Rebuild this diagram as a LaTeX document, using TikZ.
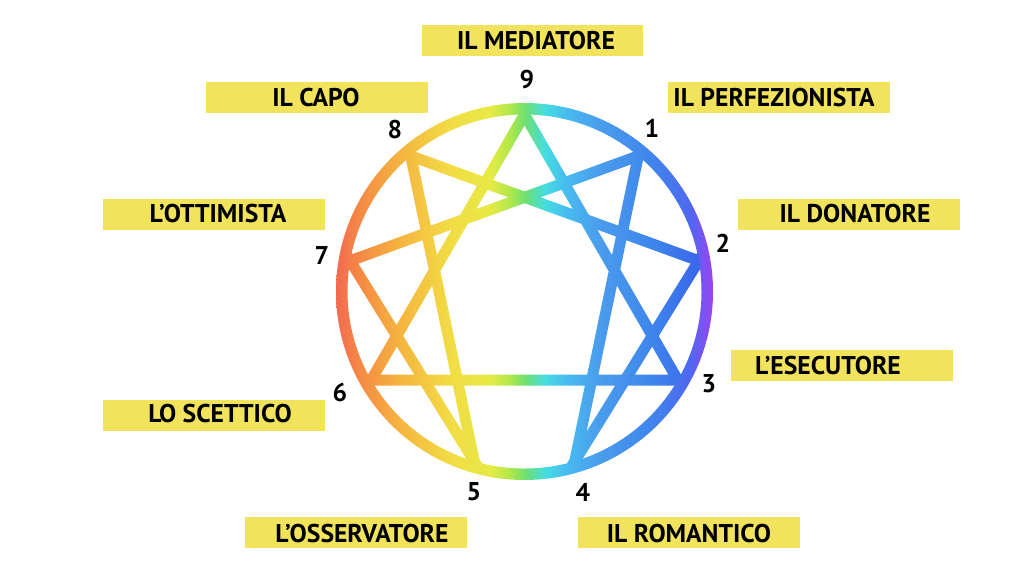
\documentclass[tikz,border=0pt]{standalone}
\usepackage{fontspec}
\setmainfont{PT Sans}
\usetikzlibrary{calc}
\definecolor{boxy}{HTML}{F2E35C}
% ring colours
\definecolor{r0}{HTML}{F26A50}
\definecolor{r1}{HTML}{F58A45}
\definecolor{r2}{HTML}{F5B540}
\definecolor{r3}{HTML}{F2DC45}
\definecolor{r4}{HTML}{E6EA45}
\definecolor{r5}{HTML}{B0E84A}
\definecolor{r6}{HTML}{6EE070}
\definecolor{r7}{HTML}{45DDE0}
\definecolor{r8}{HTML}{48BCF0}
\definecolor{r9}{HTML}{4A9CEC}
\definecolor{r10}{HTML}{3F86EC}
\definecolor{r11}{HTML}{4F68F0}
\definecolor{r12}{HTML}{8250F2}
\definecolor{r13}{HTML}{A040F0}
\definecolor{b11}{HTML}{3A6CEC}
\definecolor{b12}{HTML}{3A62EA}
\definecolor{b13}{HTML}{3C5EEA}
\pgfdeclarehorizontalshading{ringshade}{100bp}{color(0bp)=(r0); color(25bp)=(r0); color(28.17bp)=(r1); color(33.44bp)=(r2); color(40.04bp)=(r3); color(45.32bp)=(r4); color(47.95bp)=(r5); color(49.93bp)=(r6); color(52.57bp)=(r7); color(55.21bp)=(r8); color(59.83bp)=(r9); color(66.42bp)=(r10); color(71.7bp)=(r11); color(73.68bp)=(r12); color(75bp)=(r13); color(100bp)=(r13)}
\pgfdeclarehorizontalshading{bandshade}{100bp}{color(0bp)=(r0); color(25bp)=(r0); color(28.17bp)=(r1); color(33.44bp)=(r2); color(40.04bp)=(r3); color(45.32bp)=(r4); color(47.95bp)=(r5); color(49.93bp)=(r6); color(52.57bp)=(r7); color(55.21bp)=(r8); color(59.83bp)=(r9); color(66.42bp)=(r10); color(71.7bp)=(b11); color(73.68bp)=(b12); color(75bp)=(b13); color(100bp)=(b13)}
\def\hw{0.11cm}
\def\ext{0.4cm}
\newcommand\bandseg[2]{($(#1)!-\ext!(#2)!\hw!90:(#2)$) -- ($(#2)!-\ext!(#1)!\hw!-90:(#1)$) -- ($(#2)!-\ext!(#1)!\hw!90:(#1)$) -- ($(#1)!-\ext!(#2)!\hw!-90:(#2)$) -- cycle }
\tikzset{
  box/.style={fill=boxy, draw=none, minimum width=4.44cm, minimum height=0.62cm, inner sep=0pt},
  lbl/.style={font=\bfseries\fontsize{14.6pt}{17pt}\selectfont, text=black, inner sep=0pt},
  num/.style={font=\bfseries\fontsize{14.6pt}{17pt}\selectfont, text=black, inner sep=0pt}
}
\begin{document}
\begin{tikzpicture}[x=0.02cm,y=0.02cm]
\useasboundingbox (0,0) rectangle (1024,-576);
\fill[white] (0,0) rectangle (1024,-576);
\coordinate (C) at (524.5,-291.5);
\foreach \n/\a in {9/90,1/50,2/10,3/-30,4/-73.5,5/-106.5,6/-150,7/170,8/130}
  \coordinate (v\n) at ($(C)+(\a:177)$);
% ring
\begin{scope}[even odd rule]
  \clip (C) circle[radius=188.5] (C) circle[radius=177];
  \shade[shading=ringshade] (336,-100) rectangle (715,-483);
\end{scope}
% star bands
\begin{scope}
  \clip (C) circle[radius=177.5];
  \clip \bandseg{v9}{v3} \bandseg{v3}{v6} \bandseg{v6}{v9}
        \bandseg{v1}{v4} \bandseg{v4}{v2} \bandseg{v2}{v8}
        \bandseg{v8}{v5} \bandseg{v5}{v7} \bandseg{v7}{v1};
  \shade[shading=bandshade] (336,-100) rectangle (715,-483);
\end{scope}
% numbers
\node[num] (n9) at (527,-80) {9};
\node[num] (n1) at (652,-128) {1};
\node[num] (n2) at (723,-243) {2};
\node[num] (n3) at (709,-384) {3};
\node[num] (n4) at (583,-492) {4};
\node[num] (n5) at (474,-492) {5};
\node[num] (n6) at (340,-393) {6};
\node[num] (n7) at (322,-256) {7};
\node[num] (n8) at (395,-130) {8};
% label boxes
\node[box] (b9) at (532.5,-40) {};
\node[box] (b8) at (317,-97) {};
\node[box] (b1) at (779,-97.5) {};
\node[box] (b2) at (849,-214) {};
\node[box] (b7) at (214,-214.5) {};
\node[box] (b3) at (842,-365) {};
\node[box] (b6) at (214,-415) {};
\node[box] (b5) at (356,-532.5) {};
\node[box] (b4) at (689,-532.5) {};
% label texts
\node[lbl] (t9) at (536,-40.5) {IL MEDIATORE};
\node[lbl] (t8) at (316,-97.5) {IL CAPO};
\node[lbl] (t1) at (774,-97.5) {IL PERFEZIONISTA};
\node[lbl] (t2) at (855,-214) {IL DONATORE};
\node[lbl] (t7) at (218,-214) {L’OTTIMISTA};
\node[lbl] (t3) at (828,-366) {L’ESECUTORE};
\node[lbl] (t6) at (220,-414) {LO SCETTICO};
\node[lbl] (t5) at (362,-534) {L’OSSERVATORE};
\node[lbl] (t4) at (689,-534) {IL ROMANTICO};
\end{tikzpicture}
\end{document}
